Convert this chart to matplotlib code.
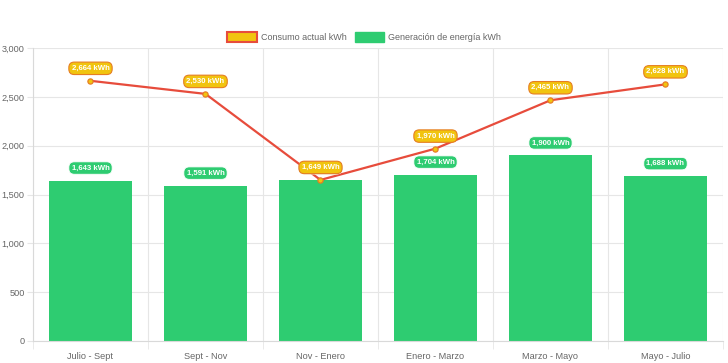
import matplotlib.pyplot as plt
import matplotlib.patches as mpatches
from matplotlib.ticker import FuncFormatter
import numpy as np

plt.rcParams['font.family'] = ['Liberation Sans', 'DejaVu Sans']

periods = ['Julio - Sept', 'Sept - Nov', 'Nov - Enero', 'Enero - Marzo', 'Marzo - Mayo', 'Mayo - Julio']
consumo = [2664, 2530, 1649, 1970, 2465, 2628]
generacion = [1643, 1591, 1645, 1704, 1900, 1688]
y_ticks = [0, 500, 1000, 1500, 2000, 2500, 3000]

green = '#2ecc71'
red = '#e74c3c'
yellow = '#f1c40f'
orange = '#e67e22'
grid_color = '#e6e6e6'
text_color = '#666666'

fig = plt.figure(figsize=(7.28, 3.63), dpi=100)
ax = fig.add_axes([33 / 728, 22 / 363, 690 / 728, 293 / 363])

x = np.arange(len(periods))
ax.bar(x, generacion, width=0.72, color=green, zorder=2)
ax.plot(x, consumo, color=red, linewidth=1.6, zorder=3)
ax.scatter(x, consumo, s=14, color=yellow, edgecolors=orange, linewidths=0.9, zorder=4)

# data labels
for xi, v in zip(x, generacion):
    ax.annotate(f'{v:,} kWh', (xi, v), xytext=(0, 9), textcoords='offset points',
                ha='center', va='center', fontsize=5.6, fontweight='bold', color='white', zorder=5,
                bbox=dict(boxstyle='round,pad=0.35,rounding_size=0.7', fc=green, ec='white', lw=0.6))
for xi, v in zip(x, consumo):
    ax.annotate(f'{v:,} kWh', (xi, v), xytext=(0, 9), textcoords='offset points',
                ha='center', va='center', fontsize=5.6, fontweight='bold', color='white', zorder=6,
                bbox=dict(boxstyle='round,pad=0.35,rounding_size=0.7', fc=yellow, ec=orange, lw=0.8))

ax.set_xlim(-0.5, len(periods) - 0.5)
ax.set_ylim(0, 3000)
ax.set_yticks(y_ticks)
ax.yaxis.set_major_formatter(FuncFormatter(lambda v, p: f'{int(v):,}'))
ax.set_xticks(x)
ax.set_xticklabels(periods)
ax.set_xticks(np.arange(len(periods) + 1) - 0.5, minor=True)

ax.grid(axis='y', which='major', color=grid_color, linewidth=0.8, zorder=0)
ax.grid(axis='x', which='minor', color=grid_color, linewidth=0.8, zorder=0)
ax.tick_params(axis='y', which='major', length=4, color=grid_color, labelsize=6.6,
               labelcolor=text_color, pad=2)
ax.tick_params(axis='x', which='major', length=0, labelsize=6.6, labelcolor=text_color, pad=8)
ax.tick_params(axis='x', which='minor', length=6, color=grid_color)
for side in ['top', 'right']:
    ax.spines[side].set_visible(False)
for side in ['left', 'bottom']:
    ax.spines[side].set_color('#d9d9d9')
    ax.spines[side].set_linewidth(0.8)

handles = [mpatches.Patch(facecolor=yellow, edgecolor=red, linewidth=1.5, label='Consumo actual kWh'),
           mpatches.Patch(facecolor=green, edgecolor=green, label='Generación de energía kWh')]
fig.legend(handles=handles, loc='center', bbox_to_anchor=(0.5, 1 - 37 / 363), ncol=2, frameon=False,
           fontsize=6.5, labelcolor=text_color, handlelength=3.3, handleheight=1.3,
           handletextpad=0.45, columnspacing=0.9)

fig.savefig('out.png', dpi=100)
